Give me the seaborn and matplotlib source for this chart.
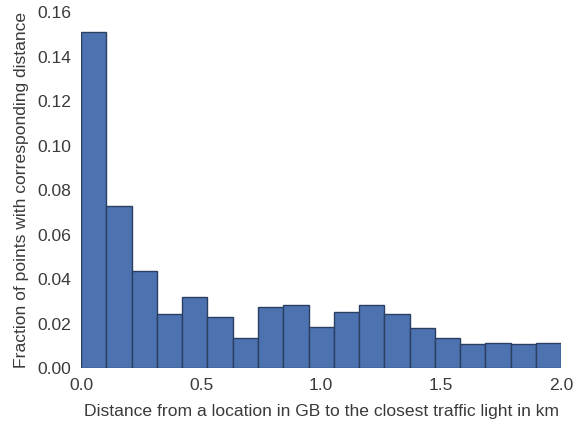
import numpy as np
import pandas as pd
import seaborn as sns
import matplotlib
matplotlib.use("Agg")
import matplotlib.pyplot as plt

# fraction of points per distance bin (19 equal bins over 0-2 km)
bin_lo = 0.0
bin_hi = 2.0
n_bins = 19
fractions = [0.151, 0.073, 0.0436, 0.0245, 0.0318, 0.0230, 0.0135, 0.0276, 0.0282,
             0.0186, 0.0253, 0.0282, 0.0245, 0.0179, 0.0135, 0.0108, 0.0112, 0.0108, 0.0112]

edges = np.linspace(bin_lo, bin_hi, n_bins + 1)
centers = (edges[:-1] + edges[1:]) / 2
df = pd.DataFrame({"dist": centers, "frac": fractions})

sns.set_style("white")
plt.rcParams['font.family'] = ['Liberation Sans', 'DejaVu Sans']
txt = '#3a3a3a'
plt.rcParams['text.color'] = txt
plt.rcParams['axes.labelcolor'] = txt
plt.rcParams['xtick.color'] = txt
plt.rcParams['ytick.color'] = txt

fig = plt.figure(figsize=(5.75, 4.32), dpi=100)
ax = fig.add_axes([0.141, 0.148, 0.835, 0.824])
sns.histplot(data=df, x="dist", weights="frac", bins=n_bins, binrange=(bin_lo, bin_hi),
             stat="count", color="#4C72B0", alpha=1, edgecolor="#2b3f63", linewidth=1, ax=ax)

ax.set_xlim(0, 2.0)
ax.set_ylim(0, 0.16)
ax.set_xticks([0.0, 0.5, 1.0, 1.5, 2.0])
ax.set_yticks(np.arange(0, 0.161, 0.02))
ax.set_yticklabels([f"{v:.2f}" for v in np.arange(0, 0.161, 0.02)])
ax.tick_params(labelsize=12.6, length=0, pad=7)
ax.set_xlabel("Distance from a location in GB to the closest traffic light in km",
              fontsize=12.6, labelpad=8)
ax.set_ylabel("Fraction of points with corresponding distance", fontsize=12.6, labelpad=6)
sns.despine(left=True, bottom=True, top=True, right=True)

fig.savefig("out.png", dpi=100)
